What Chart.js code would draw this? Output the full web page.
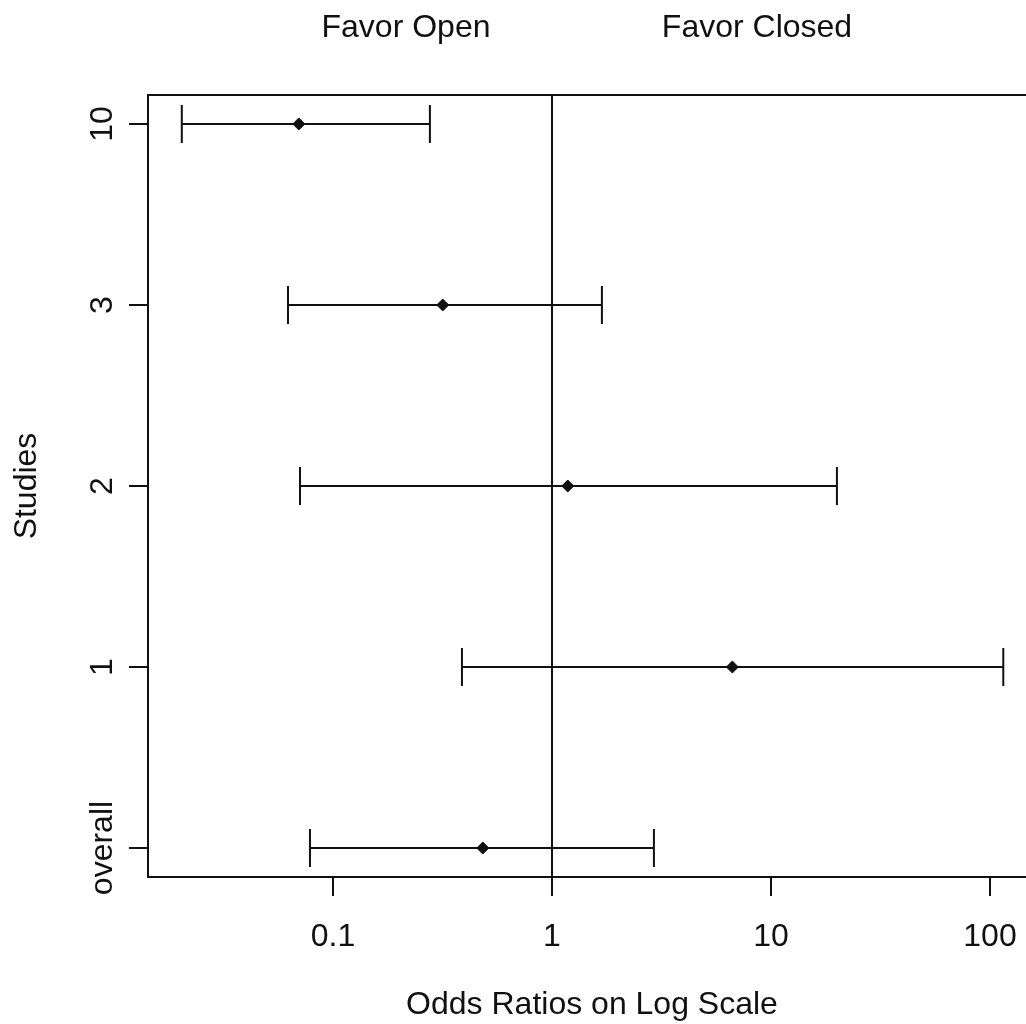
<!DOCTYPE html>
<html>
<head>
<meta charset="utf-8">
<script src="https://cdn.jsdelivr.net/npm/chart.js@4/dist/chart.umd.min.js"></script>
<style>
	html, body { margin: 0; padding: 0; background: #fff; overflow: hidden; }
	#wrap { width: 1050px; height: 1024px; }
</style>
</head>
<body>
<div id="wrap"><canvas id="forest" width="1050" height="1024"></canvas></div>
<script>
// studies listed top to bottom
const studies = ['10', '3', '2', '1', 'overall'];
const oddsRatio = [0.0698, 0.317, 1.18, 6.66, 0.483];
const lowerCI = [0.0204, 0.0623, 0.0707, 0.388, 0.0785];
const upperCI = [0.277, 1.69, 20.0, 115, 2.92];

const xTicks = [0.1, 1, 10, 100];
const yTicks = [1, 2, 3, 4, 5];
const favorLabels = ['Favor Open', 'Favor Closed'];

const FONT = "'Liberation Sans', Arial, sans-serif";
const INK = '#111';

// row position on the y axis (bottom row = 1)
const rowPos = (i) => studies.length - i;

const points = studies.map((s, i) => ({ x: oddsRatio[i], y: rowPos(i) }));

const forestPlugin = {
	id: 'forest',
	beforeDatasetsDraw(chart) {
		const { ctx, chartArea, scales } = chart;
		const x = scales.x;
		const y = scales.y;
		ctx.save();
		ctx.strokeStyle = INK;
		ctx.lineWidth = 2;
		// reference line at OR = 1
		const x1 = Math.round(x.getPixelForValue(1));
		ctx.beginPath();
		ctx.moveTo(x1, chartArea.top);
		ctx.lineTo(x1, chartArea.bottom);
		ctx.stroke();
		// confidence intervals
		studies.forEach((s, i) => {
			const py = Math.round(y.getPixelForValue(rowPos(i)));
			const lo = x.getPixelForValue(lowerCI[i]);
			const hi = x.getPixelForValue(upperCI[i]);
			ctx.beginPath();
			ctx.moveTo(lo, py);
			ctx.lineTo(hi, py);
			ctx.moveTo(lo, py - 19);
			ctx.lineTo(lo, py + 19);
			ctx.moveTo(hi, py - 19);
			ctx.lineTo(hi, py + 19);
			ctx.stroke();
		});
		ctx.restore();
	},
	afterDraw(chart) {
		const { ctx, chartArea, scales } = chart;
		const y = scales.y;
		ctx.save();
		// plot box
		ctx.strokeStyle = INK;
		ctx.lineWidth = 2;
		ctx.strokeRect(chartArea.left, chartArea.top, chartArea.right - chartArea.left, chartArea.bottom - chartArea.top);

		ctx.fillStyle = INK;
		ctx.font = '32px ' + FONT;
		ctx.textAlign = 'center';
		ctx.textBaseline = 'alphabetic';
		// y tick labels, parallel to the axis
		studies.forEach((s, i) => {
			const py = y.getPixelForValue(rowPos(i));
			ctx.save();
			ctx.translate(112, py);
			ctx.rotate(-Math.PI / 2);
			ctx.fillText(s, 0, 0);
			ctx.restore();
		});
		// labels above the plot
		ctx.fillText(favorLabels[0], 406, 37);
		ctx.fillText(favorLabels[1], 757, 37);
		ctx.restore();
	},
};

new Chart(document.getElementById('forest'), {
	type: 'scatter',
	data: {
		datasets: [
			{
				data: points,
				pointStyle: 'rectRot',
				pointRadius: 6,
				pointBorderWidth: 1,
				pointBackgroundColor: INK,
				pointBorderColor: INK,
			},
		],
	},
	options: {
		responsive: false,
		animation: false,
		events: [],
		layout: { padding: { left: 8, top: 95, right: 14, bottom: 0 } },
		plugins: {
			legend: { display: false },
			tooltip: { enabled: false },
		},
		scales: {
			x: {
				type: 'logarithmic',
				bounds: 'data',
				min: Math.pow(10, -1.8447),
				max: Math.pow(10, 2.21),
				afterBuildTicks: (scale) => {
					scale.ticks = xTicks.map((v) => ({ value: v }));
				},
				afterFit: (scale) => {
					scale.height = 147;
				},
				border: { display: false },
				grid: {
					drawOnChartArea: false,
					drawTicks: true,
					tickLength: 19,
					tickColor: INK,
					lineWidth: 2,
				},
				ticks: {
					padding: 22,
					color: INK,
					font: { family: FONT, size: 32, lineHeight: 1.2 },
					maxRotation: 0,
					autoSkip: false,
					callback: (v) => String(v),
				},
				title: {
					display: true,
					text: 'Odds Ratios on Log Scale',
					color: INK,
					font: { family: FONT, size: 32, lineHeight: 1.2 },
					padding: { top: 10, bottom: 0 },
				},
			},
			y: {
				type: 'linear',
				min: 0.84,
				max: 5.16,
				afterBuildTicks: (scale) => {
					scale.ticks = yTicks.map((v) => ({ value: v }));
				},
				afterFit: (scale) => {
					scale.width = 140;
				},
				border: { display: false },
				grid: {
					drawOnChartArea: false,
					drawTicks: true,
					tickLength: 19,
					tickColor: INK,
					lineWidth: 2,
				},
				ticks: { display: false },
				title: {
					display: true,
					text: 'Studies',
					color: INK,
					font: { family: FONT, size: 32, lineHeight: 1.2 },
					padding: { top: 0, bottom: 10 },
				},
			},
		},
	},
	plugins: [forestPlugin],
});
</script>
</body>
</html>
